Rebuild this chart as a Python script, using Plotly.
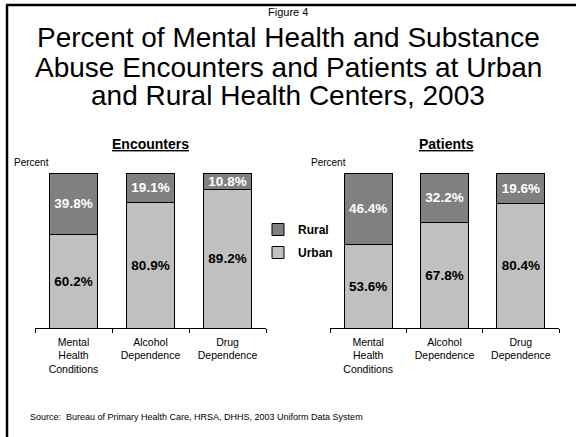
import plotly.graph_objects as go

# Data
categories = ["Mental<br>Health<br>Conditions", "Alcohol<br>Dependence", "Drug<br>Dependence"]
enc_urban = [60.2, 80.9, 89.2]
enc_rural = [39.8, 19.1, 10.8]
pat_urban = [53.6, 67.8, 80.4]
pat_rural = [46.4, 32.2, 19.6]

W, H = 576, 437
FONT = "Arial, Liberation Sans, sans-serif"
URBAN_COLOR = "#c0c0c0"
RURAL_COLOR = "#808080"


def px_x(x):
    return x / W


def px_y(y):
    return 1 - y / H


fig = go.Figure()


def add_bars(xaxis, yaxis, urban, rural, show, width):
    fig.add_trace(go.Bar(
        x=categories, y=urban, name="Urban", xaxis=xaxis, yaxis=yaxis,
        marker=dict(color=URBAN_COLOR, line=dict(color="black", width=1)),
        text=[f"{v:.1f}%" for v in urban], textposition="inside",
        insidetextanchor="middle", constraintext="none",
        textfont=dict(family=FONT, size=13.5, color="black", weight="bold"),
        width=width, legendgroup="urban", legendrank=2, showlegend=show,
        hoverinfo="skip",
    ))
    fig.add_trace(go.Bar(
        x=categories, y=rural, name="Rural", xaxis=xaxis, yaxis=yaxis,
        marker=dict(color=RURAL_COLOR, line=dict(color="black", width=1)),
        text=[f"{v:.1f}%" for v in rural], textposition="inside",
        insidetextanchor="middle", constraintext="none",
        textfont=dict(family=FONT, size=13.5, color="white", weight="bold"),
        width=width, legendgroup="rural", legendrank=1, showlegend=show,
        hoverinfo="skip",
    ))


add_bars("x", "y", enc_urban, enc_rural, True, 0.636)
add_bars("x2", "y2", pat_urban, pat_rural, False, 0.63)

ydom = [px_y(328), px_y(173)]
xaxis_common = dict(
    showline=True, linecolor="black", linewidth=1,
    ticks="outside", ticklen=4, tickcolor="black", tickwidth=1,
    tickson="boundaries", showgrid=False, zeroline=False,
    tickfont=dict(family=FONT, size=10.5, color="black"),
    ticklabelstandoff=4,
    range=[-0.5, 2.5], fixedrange=True,
)
yaxis_common = dict(
    range=[0, 100], domain=ydom, showticklabels=False, showgrid=False,
    zeroline=False, showline=False, ticks="", fixedrange=True,
)

fig.update_layout(
    width=W, height=H,
    margin=dict(l=0, r=0, t=0, b=0),
    paper_bgcolor="white", plot_bgcolor="white",
    barmode="stack", bargap=0.36,
    font=dict(family=FONT, color="black"),
    xaxis=dict(domain=[px_x(35), px_x(266)], anchor="y", **xaxis_common),
    yaxis=dict(anchor="x", **yaxis_common),
    xaxis2=dict(domain=[px_x(330), px_x(559)], anchor="y2", **xaxis_common),
    yaxis2=dict(anchor="x2", **yaxis_common),
    legend=dict(
        x=px_x(258), y=px_y(215), xanchor="left", yanchor="top",
        font=dict(family=FONT, size=12, color="black", weight="bold"),
        traceorder="grouped", tracegroupgap=4,
        bgcolor="rgba(0,0,0,0)", itemwidth=30,
    ),
    showlegend=True,
)

annotations = [
    dict(text="Figure 4", x=0.5, y=px_y(12), font=dict(size=11)),
    dict(text="Percent of Mental Health and Substance", x=0.5, y=px_y(37), font=dict(size=28)),
    dict(text="Abuse Encounters and Patients at Urban", x=0.5, y=px_y(67), font=dict(size=28)),
    dict(text="and Rural Health Centers, 2003", x=0.5, y=px_y(96), font=dict(size=28)),
    dict(text="<b><u>Encounters</u></b>", x=px_x(150), y=px_y(144), font=dict(size=14)),
    dict(text="<b><u>Patients</u></b>", x=px_x(446), y=px_y(144), font=dict(size=14)),
    dict(text="Percent", x=px_x(12), y=px_y(162), xanchor="left", font=dict(size=10)),
    dict(text="Percent", x=px_x(309), y=px_y(162), xanchor="left", font=dict(size=10)),
    dict(text="Source:  Bureau of Primary Health Care, HRSA, DHHS, 2003 Uniform Data System",
         x=px_x(28), y=px_y(417), xanchor="left", font=dict(size=9)),
]
for a in annotations:
    a.setdefault("xanchor", "center")
    a.update(xref="paper", yref="paper", yanchor="middle", showarrow=False)
    a["font"] = dict(family=FONT, color="black", **a["font"])
fig.update_layout(annotations=annotations)

# Frame along the left and top edges
fig.add_shape(type="line", xref="paper", yref="paper",
              x0=px_x(7), x1=px_x(7), y0=0, y1=px_y(5),
              line=dict(color="black", width=2.5))
fig.add_shape(type="line", xref="paper", yref="paper",
              x0=px_x(6), x1=1, y0=px_y(5), y1=px_y(5),
              line=dict(color="black", width=2.5))

fig.write_html("out.html")
